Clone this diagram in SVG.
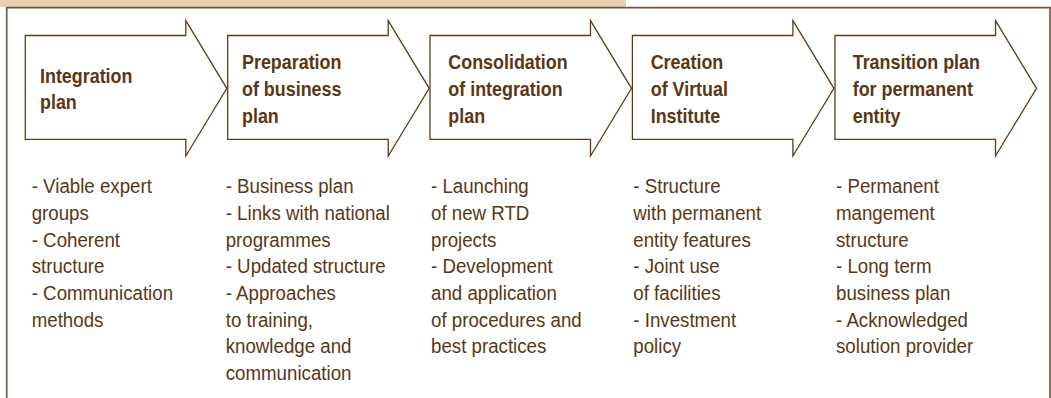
<svg xmlns="http://www.w3.org/2000/svg" width="1051" height="398" viewBox="0 0 1051 398">
<style>
.bar{fill:#e9cfb3}
.frame{fill:none;stroke:#6e5537;stroke-width:1.6}
.arrow{fill:#ffffff;stroke:#5a3e1c;stroke-width:1.3;stroke-linejoin:miter}
.title{font-family:"Liberation Sans",Arial,sans-serif;font-weight:bold;font-size:20px;fill:#5a3714}
.body{font-family:"Liberation Sans",Arial,sans-serif;font-size:20px;fill:#5a3714}
</style>
<rect class="bar" x="0" y="0" width="626" height="7"/>
<path class="frame" d="M6.7,400 V7.6 H1050 V400"/>
<g id="connectors"></g>
<g id="node1">
<polygon class="arrow" points="25.3,35.5 185.8,35.5 185.8,20.7 226.8,88.3 185.8,156 185.8,139.3 25.3,139.3"/>
<text class="title" transform="translate(40,0) scale(0.895,1)"><tspan x="0" y="83.3">Integration</tspan><tspan x="0" y="109.3">plan</tspan></text>
<text class="body" transform="translate(31.7,0) scale(0.935,1)"><tspan x="0" y="193.3">- Viable expert</tspan><tspan x="0" y="220">groups</tspan><tspan x="0" y="246.7">- Coherent</tspan><tspan x="0" y="273.3">structure</tspan><tspan x="0" y="300">- Communication</tspan><tspan x="0" y="326.7">methods</tspan></text>
</g>
<g id="node2">
<polygon class="arrow" points="227.7,35.5 388.2,35.5 388.2,20.7 429.2,88.3 388.2,156 388.2,139.3 227.7,139.3"/>
<text class="title" transform="translate(242,0) scale(0.895,1)"><tspan x="0" y="69.3">Preparation</tspan><tspan x="0" y="96">of business</tspan><tspan x="0" y="122.7">plan</tspan></text>
<text class="body" transform="translate(225.7,0) scale(0.935,1)"><tspan x="0" y="193.3">- Business plan</tspan><tspan x="0" y="220">- Links with national</tspan><tspan x="0" y="246.7">programmes</tspan><tspan x="0" y="273.3">- Updated structure</tspan><tspan x="0" y="300">- Approaches</tspan><tspan x="0" y="326.7">to training,</tspan><tspan x="0" y="353.3">knowledge and</tspan><tspan x="0" y="380">communication</tspan></text>
</g>
<g id="node3">
<polygon class="arrow" points="430,35.5 590.5,35.5 590.5,20.7 631.5,88.3 590.5,156 590.5,139.3 430,139.3"/>
<text class="title" transform="translate(448.3,0) scale(0.895,1)"><tspan x="0" y="69.3">Consolidation</tspan><tspan x="0" y="96">of integration</tspan><tspan x="0" y="122.7">plan</tspan></text>
<text class="body" transform="translate(431,0) scale(0.935,1)"><tspan x="0" y="193.3">- Launching</tspan><tspan x="0" y="220">of new RTD</tspan><tspan x="0" y="246.7">projects</tspan><tspan x="0" y="273.3">- Development</tspan><tspan x="0" y="300">and application</tspan><tspan x="0" y="326.7">of procedures and</tspan><tspan x="0" y="353.3">best practices</tspan></text>
</g>
<g id="node4">
<polygon class="arrow" points="632.4,35.5 792.9,35.5 792.9,20.7 833.9,88.3 792.9,156 792.9,139.3 632.4,139.3"/>
<text class="title" transform="translate(650.7,0) scale(0.895,1)"><tspan x="0" y="69.3">Creation</tspan><tspan x="0" y="96">of Virtual</tspan><tspan x="0" y="122.7">Institute</tspan></text>
<text class="body" transform="translate(633.3,0) scale(0.935,1)"><tspan x="0" y="193.3">- Structure</tspan><tspan x="0" y="220">with permanent</tspan><tspan x="0" y="246.7">entity features</tspan><tspan x="0" y="273.3">- Joint use</tspan><tspan x="0" y="300">of facilities</tspan><tspan x="0" y="326.7">- Investment</tspan><tspan x="0" y="353.3">policy</tspan></text>
</g>
<g id="node5">
<polygon class="arrow" points="835,35.5 995.5,35.5 995.5,20.7 1036.5,88.3 995.5,156 995.5,139.3 835,139.3"/>
<text class="title" transform="translate(852.7,0) scale(0.895,1)"><tspan x="0" y="69.3">Transition plan</tspan><tspan x="0" y="96">for permanent</tspan><tspan x="0" y="122.7">entity</tspan></text>
<text class="body" transform="translate(836,0) scale(0.935,1)"><tspan x="0" y="193.3">- Permanent</tspan><tspan x="0" y="220">mangement</tspan><tspan x="0" y="246.7">structure</tspan><tspan x="0" y="273.3">- Long term</tspan><tspan x="0" y="300">business plan</tspan><tspan x="0" y="326.7">- Acknowledged</tspan><tspan x="0" y="353.3">solution provider</tspan></text>
</g>
</svg>
